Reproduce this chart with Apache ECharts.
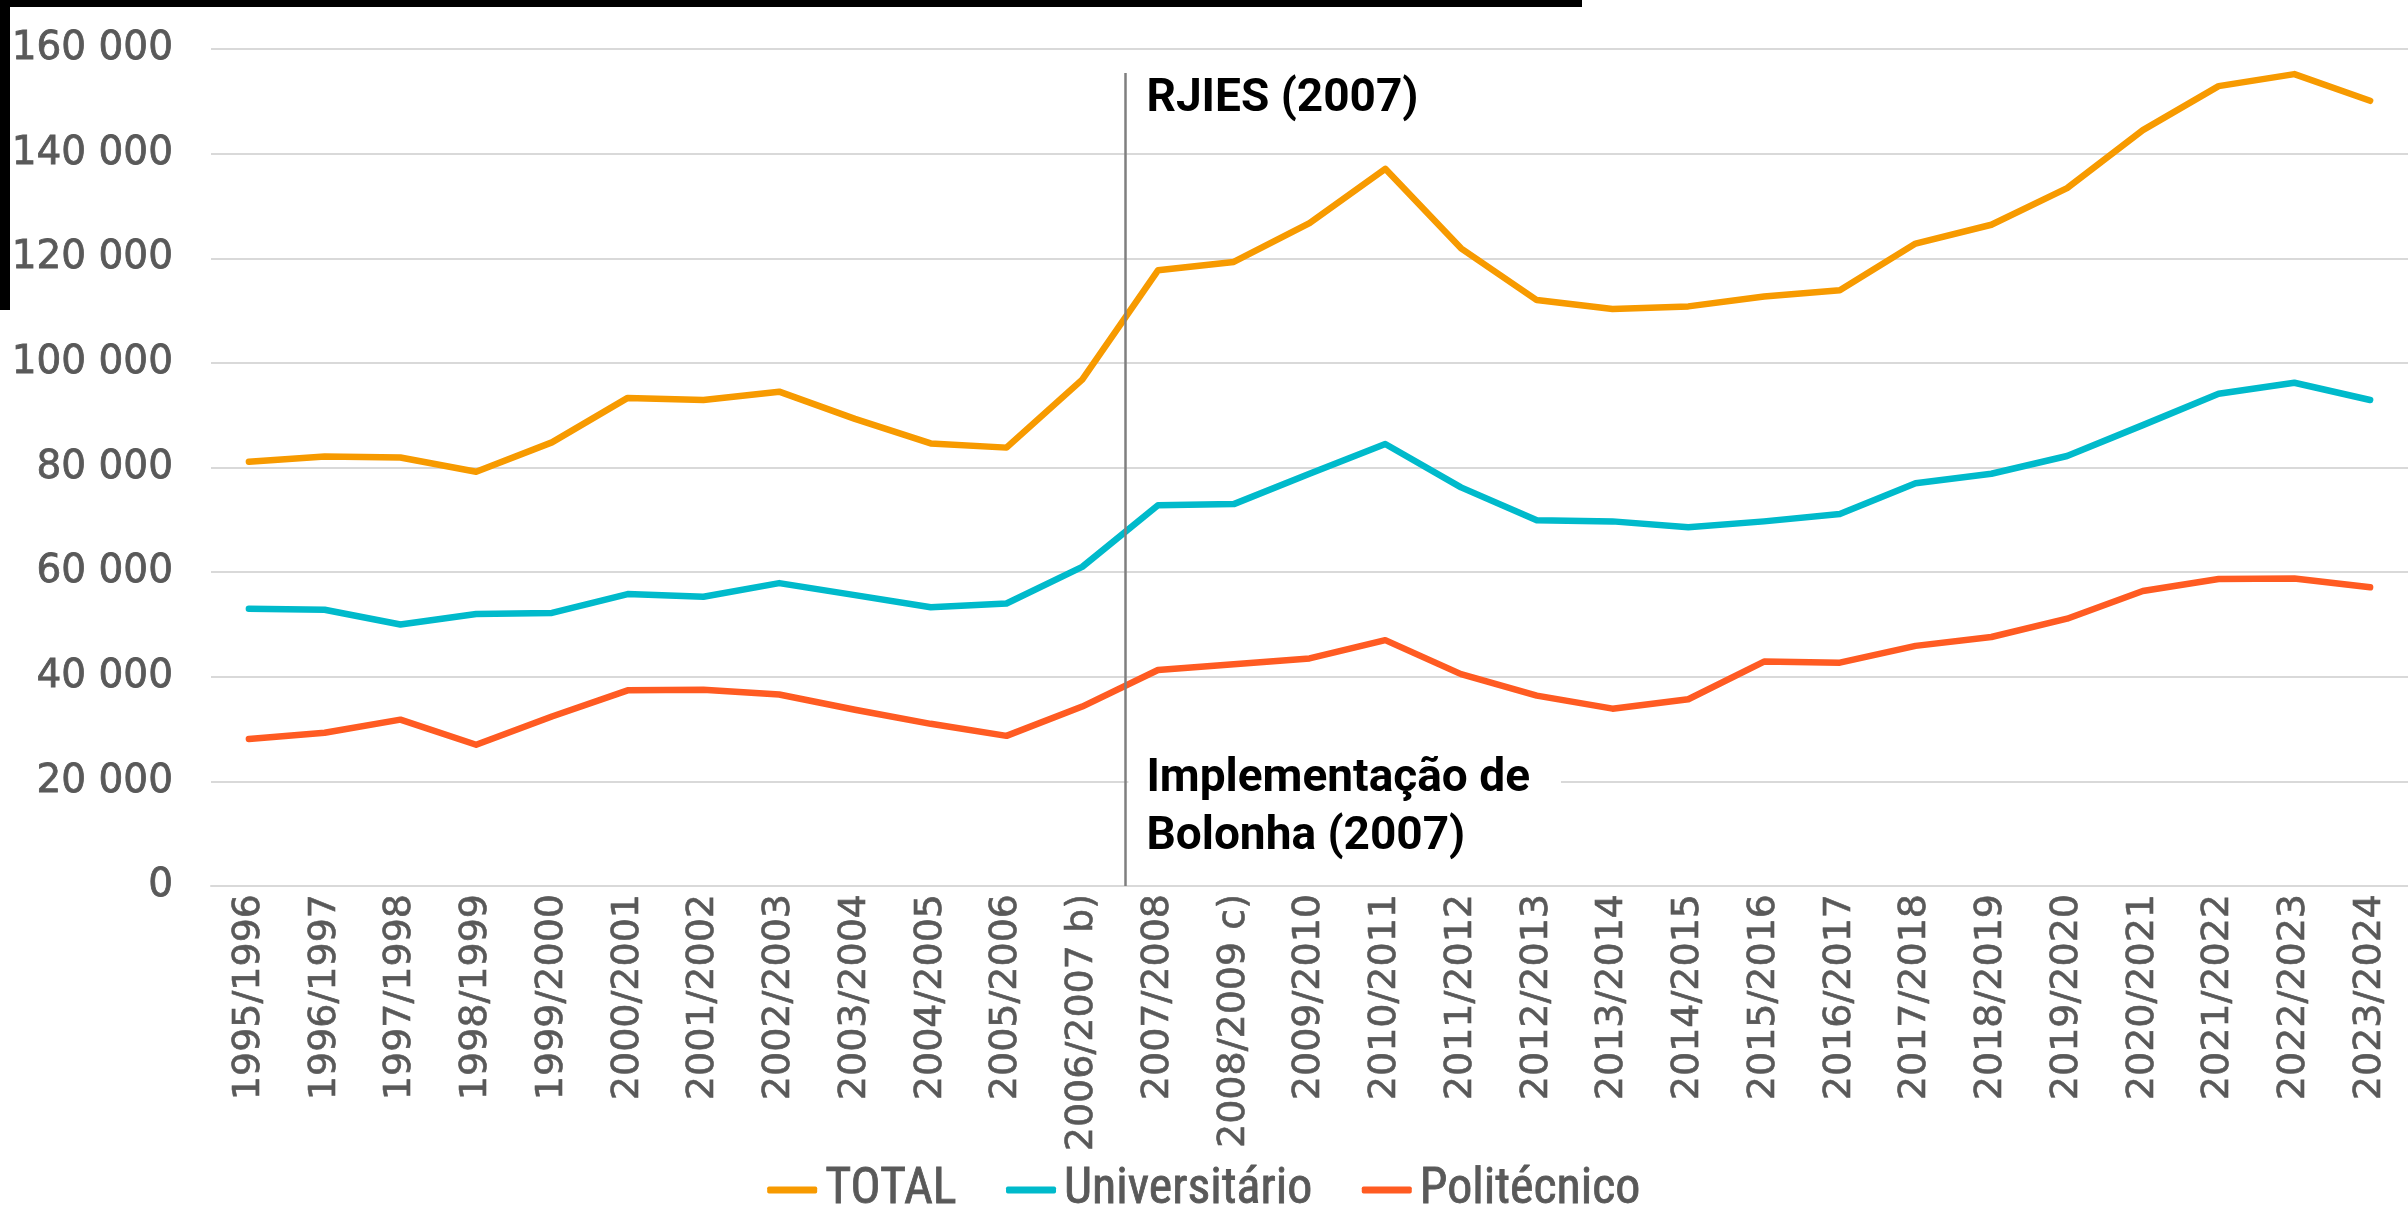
<!DOCTYPE html>
<html>
<head>
<meta charset="utf-8">
<script src="https://cdn.jsdelivr.net/npm/echarts@6/dist/echarts.min.js"></script>
<style>
html,body{margin:0;padding:0;background:#fff;}
#chart{width:2408px;height:1209px;}
</style>
</head>
<body>
<div id="chart"></div>
<script>
const categories = ['1995/1996','1996/1997','1997/1998','1998/1999','1999/2000','2000/2001','2001/2002','2002/2003','2003/2004','2004/2005','2005/2006','2006/2007 b)','2007/2008','2008/2009 c)','2009/2010','2010/2011','2011/2012','2012/2013','2013/2014','2014/2015','2015/2016','2016/2017','2017/2018','2018/2019','2019/2020','2020/2021','2021/2022','2022/2023','2023/2024'];
const totalValues = [81100,82100,81900,79200,84800,93300,92900,94500,89300,84600,83800,96800,117700,119300,126700,137100,121900,112000,110300,110800,112700,113900,122800,126400,133400,144500,152900,155200,150100];
const universitarioValues = [53000,52800,50000,52000,52200,55800,55300,57900,55600,53300,54000,61000,72800,73000,78800,84500,76200,69900,69700,68600,69700,71100,77000,78800,82200,88100,94100,96200,92900];
const politecnicoValues = [28100,29300,31800,27000,32400,37400,37500,36600,33700,31000,28700,34300,41300,42400,43500,47000,40500,36400,33900,35700,42900,42700,45900,47600,51100,56400,58700,58800,57100];
const seriesNames = ['TOTAL','Universitário','Politécnico'];
const seriesColors = ['#F79A00','#00BACB','#FF5B22'];
const yMin = 0, yMax = 160000, yInterval = 20000;
// reform marker position (between 2006/2007 and 2007/2008, in category-index units)
const reformPosition = 11.57;
const reformLineTop = 155400;
const annotationRJIES = {text:'RJIES (2007)', value:150300};
const annotationBolonha = {text:'Implementação de\nBolonha (2007)', value:14900};

const axisFont = '"DejaVu Sans", Verdana, sans-serif';
const fmt = v => String(v).replace(/\B(?=(\d{3})+(?!\d))/g, ' ');
const chart = echarts.init(document.getElementById('chart'), null, {renderer:'canvas'});
const valueSets = [totalValues, universitarioValues, politecnicoValues];

const option = {
  animation:false,
  backgroundColor:'#fff',
  grid:{left:211, right:-3, top:49, bottom:323, containLabel:false},
  legend:{
    data:seriesNames, top:1162, left:'center', padding:0,
    icon:'roundRect', itemWidth:50, itemHeight:7, itemGap:49,
    textStyle:{color:'#595959', fontSize:50, lineHeight:56, fontFamily:'"Roboto Condensed","Liberation Sans Narrow",sans-serif', padding:[0,0,0,3], textBorderColor:'#595959', textBorderWidth:0.8}
  },
  xAxis:[{
    type:'category', data:categories, boundaryGap:true,
    axisLine:{show:true, lineStyle:{color:'#D9D9D9', width:2}},
    axisTick:{show:false},
    axisLabel:{rotate:90, interval:0, margin:8, color:'#595959', fontSize:38, fontFamily:axisFont, textBorderColor:'#595959', textBorderWidth:0.6}
  },{
    type:'value', min:-0.5, max:categories.length-0.5, show:false
  }],
  yAxis:{
    type:'value', min:yMin, max:yMax, interval:yInterval,
    axisLine:{show:false}, axisTick:{show:false},
    axisLabel:{margin:38, color:'#595959', fontSize:39, fontFamily:axisFont, formatter:fmt, textBorderColor:'#595959', textBorderWidth:0.8},
    splitLine:{lineStyle:{color:'#D9D9D9', width:2}}
  },
  graphic:[
    {type:'rect', shape:{x:0,y:0,width:1582,height:7}, style:{fill:'#000'}, silent:true},
    {type:'rect', shape:{x:0,y:0,width:10,height:310}, style:{fill:'#000'}, silent:true}
  ],
  series: seriesNames.map((n,i)=>({
    name:n, type:'line', data:valueSets[i], symbol:'none', showSymbol:false,
    lineStyle:{width:6.5, color:seriesColors[i], cap:'round', join:'round'},
    itemStyle:{color:seriesColors[i]}, z:3
  })).concat([{
    name:'reform', type:'line', xAxisIndex:1, yAxisIndex:0, data:[], silent:true, z:4,
    markLine:{
      silent:true, symbol:'none', animation:false,
      lineStyle:{color:'#7F7F7F', width:2.5, type:'solid'},
      label:{show:false},
      data:[[{coord:[reformPosition, yMin]},{coord:[reformPosition, reformLineTop]}]]
    },
    markPoint:{
      silent:true, symbol:'circle', symbolSize:0, animation:false,
      data:[
        {coord:[reformPosition, annotationRJIES.value],
         label:{show:true, position:'right', distance:21, formatter:annotationRJIES.text, color:'#000', fontSize:46, fontWeight:'bold', fontFamily:'Roboto, sans-serif'}},
        {coord:[reformPosition, annotationBolonha.value],
         label:{show:true, position:'right', distance:3, formatter:annotationBolonha.text, color:'#000', fontSize:46, fontWeight:'bold', lineHeight:58, fontFamily:'Roboto, sans-serif', backgroundColor:'#fff', padding:[2,31,2,18], align:'left'}}
      ]
    }
  }])
};
chart.setOption(option);
</script>
</body>
</html>
